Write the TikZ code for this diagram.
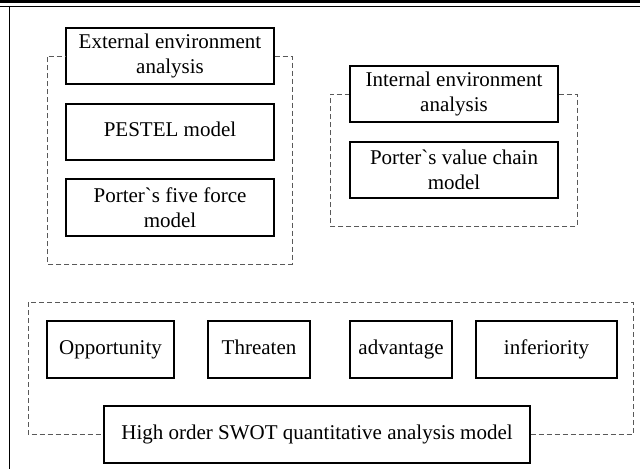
\documentclass[tikz,border=0pt]{standalone}
\usepackage{fontspec}
\setmainfont{Liberation Serif}
\usetikzlibrary{positioning}

\tikzset{
  blk/.style={draw, line width=0.6pt, align=center, inner sep=0pt,
    minimum height=28pt, font=\fontsize{10.5}{12.5}\selectfont},
  oneline/.style={text height=7.4pt, text depth=2.4pt},
  grp/.style={draw=black!65, line width=0.45pt, dash pattern=on 2.5pt off 1.5pt}
}

\begin{document}
\begin{tikzpicture}[x=0.5pt,y=-0.5pt]
\useasboundingbox (0,0) rectangle (640,469);
% page rules
\draw[line width=1.6pt] (0,1.6) -- (640,1.6);
\draw[line width=0.5pt] (0,6.5) -- (640,6.5);
\draw[line width=0.5pt] (9,6.5) -- (9,469);

% external environment
\node[blk, minimum width=104pt] (ext) at (170,56) {External environment\\analysis};
\node[blk, oneline, minimum width=104pt] (pestel) at (170,132) {PESTEL model};
\node[blk, minimum width=104pt, minimum height=28.5pt] (five) at (170,207.5) {Porter\textasciigrave s five force\\model};
\draw[grp] (ext.east) -| (292,264) -| (47,56) -- (ext.west);

% internal environment
\node[blk, minimum width=104pt] (int) at (454,94) {Internal environment\\analysis};
\node[blk, minimum width=104pt] (chain) at (454,170) {Porter\textasciigrave s value chain\\model};
\draw[grp] (int.east) -| (577,226) -| (330,94) -- (int.west);

% SWOT
\node[blk, oneline, minimum width=63.5pt, minimum height=28.5pt] (opp) at (110.5,349.5) {Opportunity};
\node[blk, oneline, minimum width=51pt, minimum height=28.5pt] (thr) at (259,349.5) {Threaten};
\node[blk, oneline, minimum width=51pt, minimum height=28.5pt] (adv) at (401,349.5) {advantage};
\node[blk, oneline, minimum width=70.5pt, minimum height=28.5pt] (inf) at (546.5,349.5) {inferiority};
\node[blk, oneline, minimum width=213pt, minimum height=28.5pt] (swot) at (317,434.5) {High order SWOT quantitative analysis model};
\draw[grp] (swot.east) -| (633,302) -| (28,434.5) -- (swot.west);
\end{tikzpicture}
\end{document}
